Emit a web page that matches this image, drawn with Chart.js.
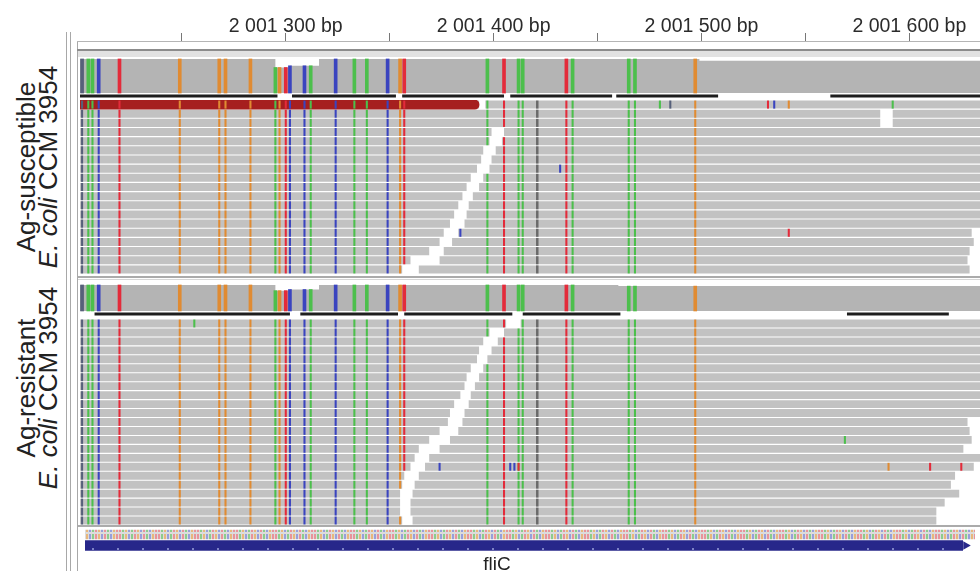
<!DOCTYPE html>
<html>
<head>
<meta charset="utf-8">
<script src="https://cdn.jsdelivr.net/npm/chart.js@4.4.1/dist/chart.umd.min.js"></script>
<style>
  body { margin:0; background:#fff; width:980px; height:571px; overflow:hidden; position:relative; font-family:'Liberation Sans', Arial, sans-serif; }
  canvas { position:absolute; }
  .ln { position:absolute; background:#a8a8a8; }
  .side { position:absolute; width:260px; height:44px; line-height:22px; font-size:26px; color:#222; text-align:center; transform:rotate(-90deg); white-space:nowrap; }
  .gene { position:absolute; left:467px; top:554px; width:60px; text-align:center; font-size:19px; line-height:19px; color:#222; }
</style>
</head>
<body>
<!-- frame lines of the track panels -->
<div class="ln" style="left:66px;top:32px;width:1px;height:539px"></div>
<div class="ln" style="left:70px;top:32px;width:1px;height:539px"></div>
<div class="ln" style="left:77px;top:41px;width:1px;height:530px"></div>
<div class="ln" style="left:77px;top:41px;width:903px;height:1px;background:#b5b5b5"></div>
<div class="ln" style="left:77px;top:49px;width:903px;height:2px;background:#8c8c8c"></div>
<div class="ln" style="left:78px;top:51px;width:902px;height:6px;background:#e2e2e2"></div>
<div class="ln" style="left:78px;top:276px;width:902px;height:2px;background:#ababab"></div>
<div class="ln" style="left:78px;top:279px;width:902px;height:1px;background:#d6d6d6"></div>
<div class="ln" style="left:78px;top:525px;width:902px;height:2px;background:#ababab"></div>

<canvas id="ruler" width="900" height="50" style="left:80px;top:0"></canvas>
<canvas id="cov1" width="900" height="46" style="left:80px;top:53px"></canvas>
<canvas id="reads1" width="900" height="174" style="left:80px;top:100px"></canvas>
<canvas id="cov2" width="900" height="38" style="left:80px;top:280px"></canvas>
<canvas id="reads2" width="900" height="206" style="left:80px;top:319px"></canvas>
<canvas id="genes" width="900" height="32" style="left:80px;top:524px"></canvas>

<div class="side" style="left:-93px;top:145px">Ag-susceptible<br><i>E. coli</i> CCM 3954</div>
<div class="side" style="left:-93px;top:366px">Ag-resistant<br><i>E. coli</i> CCM 3954</div>
<div class="gene" id="geneLabel"></div>

<script>
// visible window (bp)
const axisStart = 2001201;
const axisEnd = 2001634;

// ruler
const tickValues = [2001300, 2001400, 2001500, 2001600];
const tickLabels = ['2 001 300 bp', '2 001 400 bp', '2 001 500 bp', '2 001 600 bp'];
const minorTicks = [2001250, 2001350, 2001450, 2001550];

// mismatch columns shared by both strains
const snpPos = [2001202, 2001205, 2001207, 2001210, 2001220, 2001249, 2001268, 2001271, 2001283,
  2001295, 2001297, 2001300, 2001302, 2001309, 2001312, 2001324, 2001333, 2001339, 2001349,
  2001355, 2001357, 2001397, 2001405, 2001412, 2001414, 2001435, 2001438, 2001465, 2001468, 2001497];
const snpBase = ['N', 'A', 'A', 'C', 'T', 'G', 'G', 'G', 'G',
  'A', 'G', 'T', 'C', 'C', 'A', 'C', 'A', 'A', 'C',
  'G', 'T', 'A', 'T', 'A', 'A', 'T', 'A', 'A', 'A', 'G'];
const insertPos = [2001421];

// coverage depth, as steps starting at these positions
const cov1Start = [2001201, 2001295, 2001302, 2001316, 2001499];
const cov1Depth = [20, 15, 16, 20, 19];
const cov2Start = [2001201, 2001295, 2001302, 2001316, 2001460];
const cov2Depth = [23, 18, 19, 23, 22];

// black segments under the coverage track
const joins1 = [[2001201, 2001296], [2001303, 2001353], [2001356, 2001405], [2001408, 2001457], [2001459, 2001508], [2001562, 2001634]];
const joins2 = [[2001208, 2001302], [2001307, 2001354], [2001357, 2001409], [2001414, 2001461], [2001570, 2001619]];

// reads, one list per row
const reads1 = [
  [[2001201, 2001393], [2001396, 2001634]],
  [[2001201, 2001586], [2001592, 2001634]],
  [[2001201, 2001586], [2001592, 2001634]],
  [[2001201, 2001399], [2001405, 2001634]],
  [[2001201, 2001398], [2001404, 2001634]],
  [[2001201, 2001395], [2001401, 2001634]],
  [[2001201, 2001394], [2001399, 2001634]],
  [[2001201, 2001392], [2001398, 2001634]],
  [[2001201, 2001389], [2001395, 2001634]],
  [[2001201, 2001387], [2001393, 2001634]],
  [[2001201, 2001385], [2001390, 2001634]],
  [[2001201, 2001383], [2001388, 2001634]],
  [[2001201, 2001381], [2001387, 2001634]],
  [[2001201, 2001379], [2001386, 2001634]],
  [[2001201, 2001376], [2001383, 2001630]],
  [[2001201, 2001374], [2001380, 2001631]],
  [[2001201, 2001369], [2001376, 2001629]],
  [[2001201, 2001360], [2001374, 2001628]],
  [[2001201, 2001356], [2001364, 2001629]]
];
const redRead1 = [0, 2001201, 2001393];
const reads2 = [
  [[2001201, 2001406], [2001413, 2001634]],
  [[2001201, 2001398], [2001405, 2001634]],
  [[2001201, 2001395], [2001402, 2001634]],
  [[2001201, 2001393], [2001399, 2001634]],
  [[2001201, 2001392], [2001397, 2001634]],
  [[2001201, 2001389], [2001395, 2001634]],
  [[2001201, 2001387], [2001393, 2001634]],
  [[2001201, 2001386], [2001391, 2001634]],
  [[2001201, 2001384], [2001389, 2001634]],
  [[2001201, 2001381], [2001388, 2001634]],
  [[2001201, 2001379], [2001386, 2001634]],
  [[2001201, 2001378], [2001385, 2001628]],
  [[2001201, 2001374], [2001383, 2001629]],
  [[2001201, 2001369], [2001379, 2001630]],
  [[2001201, 2001364], [2001374, 2001626]],
  [[2001201, 2001362], [2001369, 2001634]],
  [[2001201, 2001360], [2001367, 2001631]],
  [[2001201, 2001357], [2001364, 2001622]],
  [[2001201, 2001356], [2001362, 2001620]],
  [[2001201, 2001355], [2001361, 2001624]],
  [[2001201, 2001355], [2001360, 2001617]],
  [[2001201, 2001355], [2001360, 2001613]],
  [[2001201, 2001356], [2001361, 2001613]]
];

// single mismatches seen in one read only: [row, position, base]
const extra1 = [[0, 2001480, 'A'], [0, 2001485, 'N'], [0, 2001532, 'T'], [0, 2001535, 'C'], [0, 2001542, 'G'],
  [0, 2001592, 'A'], [7, 2001432, 'C'], [14, 2001384, 'C'], [14, 2001542, 'T']];
const extra2 = [[0, 2001256, 'A'], [13, 2001569, 'A'], [16, 2001374, 'C'], [16, 2001408, 'C'], [16, 2001410, 'C'],
  [16, 2001412, 'T'], [16, 2001590, 'G'], [16, 2001610, 'T'], [16, 2001625, 'T']];

const geneName = 'fliC';
const geneStart = 2001190;
const geneEnd = 2001628;

// colours
const baseColors = { A: '#4cbf4c', C: '#3a44bf', G: '#e08b32', T: '#e32b3a', N: '#56607a', I: '#6a6a6a' };
const coverageGrey = '#b4b4b4';
const readGrey = '#c2c2c2';

const common = {
  responsive: false, animation: false, events: [],
  layout: { padding: 0 },
  plugins: { legend: { display: false }, tooltip: { enabled: false } }
};
const xAxis = { type: 'linear', min: axisStart, max: axisEnd, display: false, offset: false };

// ruler on top
new Chart(document.getElementById('ruler'), {
  type: 'line',
  data: { datasets: [] },
  options: {
    ...common,
    scales: {
      x: {
        type: 'linear', position: 'top', min: axisStart, max: axisEnd, offset: false,
        afterBuildTicks: s => { s.ticks = minorTicks.concat(tickValues).sort().map(v => ({ value: v })); },
        afterFit: s => { s.height = 41; },
        ticks: {
          autoSkip: false, maxRotation: 0, padding: -5, color: '#2b2b2b',
          font: { family: 'Liberation Sans', size: 19.5 },
          callback: v => { const i = tickValues.indexOf(v); return i >= 0 ? tickLabels[i] : ''; }
        },
        grid: { drawOnChartArea: false, tickLength: 8, color: '#777' },
        border: { display: false }
      },
      y: { display: false }
    }
  }
});

function depthAt(p, starts, depths) {
  let d = depths[0];
  starts.forEach((s, i) => { if (p >= s) d = depths[i]; });
  return d;
}

function coverageChart(id, starts, depths, joins, yMin, yMax, joinY) {
  const steps = starts.map((s, i) => ({ x: s, y: depths[i] }));
  steps.push({ x: axisEnd, y: depths[depths.length - 1] });
  const joinData = joins.flatMap(([a, b]) => [{ x: a, y: joinY }, { x: b, y: joinY }, { x: b, y: null }]);
  new Chart(document.getElementById(id), {
    type: 'bar',
    data: {
      datasets: [
        { type: 'line', data: steps, stepped: 'before', fill: 'origin', backgroundColor: coverageGrey,
          borderWidth: 0, borderColor: 'rgba(0,0,0,0)', pointRadius: 0, order: 3 },
        { data: snpPos.map(p => ({ x: p, y: depthAt(p, starts, depths) })),
          backgroundColor: snpBase.map(b => baseColors[b]), barThickness: 3, order: 2 },
        { type: 'line', data: joinData, borderColor: '#1e1e1e', borderWidth: 3, pointRadius: 0,
          spanGaps: false, fill: false, order: 1 }
      ]
    },
    options: {
      ...common,
      scales: { x: xAxis, y: { type: 'linear', min: yMin, max: yMax, display: false } }
    }
  });
}

function readsChart(id, rows, extras, red) {
  const labels = rows.map((_, i) => 'r' + i);
  const reads = rows.flatMap((row, i) => row.map(([s, e]) => ({ x: [s, e], y: 'r' + i })));
  const marks = [], markColors = [];
  rows.forEach((row, i) => row.forEach(([s, e]) => {
    snpPos.forEach((p, k) => {
      if (p > s && p < e) { marks.push({ x: [p - 0.5, p + 0.5], y: 'r' + i }); markColors.push(baseColors[snpBase[k]]); }
    });
    insertPos.forEach(p => {
      if (p > s && p < e) { marks.push({ x: [p - 0.6, p + 0.6], y: 'r' + i }); markColors.push(baseColors.I); }
    });
  }));
  extras.forEach(([r, p, b]) => { marks.push({ x: [p - 0.5, p + 0.5], y: 'r' + r }); markColors.push(baseColors[b]); });

  const datasets = [
    { data: reads, backgroundColor: readGrey, order: 3 },
    { data: marks, backgroundColor: markColors, order: 1 }
  ];
  if (red) {
    datasets.push({ data: [{ x: [red[1], red[2]], y: 'r' + red[0] }], backgroundColor: '#a61f1f', order: 2,
      barPercentage: 1, borderRadius: { topLeft: 0, bottomLeft: 0, topRight: 5, bottomRight: 5 } });
  }
  new Chart(document.getElementById(id), {
    type: 'bar',
    data: { labels, datasets },
    options: {
      ...common,
      indexAxis: 'y',
      datasets: { bar: { grouped: false, barPercentage: 0.88, categoryPercentage: 1, borderSkipped: false, borderWidth: 0 } },
      scales: { x: xAxis, y: { type: 'category', labels, display: false, offset: true } }
    }
  });
}

function stripes(colors, w, h, bg) {
  const c = document.createElement('canvas');
  c.width = colors.length * w; c.height = h;
  const g = c.getContext('2d');
  g.fillStyle = bg; g.fillRect(0, 0, c.width, h);
  colors.forEach((col, i) => { g.fillStyle = col; g.fillRect(i * w, 1, w - 1, h - 2); });
  return g.createPattern(c, 'repeat');
}

coverageChart('cov1', cov1Start, cov1Depth, joins1, -3.5, 23.5, -1.75);
readsChart('reads1', reads1, extra1, redRead1);
coverageChart('cov2', cov2Start, cov2Depth, joins2, -6.2, 27.4, -2.6);
readsChart('reads2', reads2, extra2, null);

// reference sequence and gene track
const seqFill = stripes(['#e8939b', '#8ccc8c', '#e8b77c', '#979fdb', '#8ccc8c', '#e8939b', '#e8b77c',
  '#979fdb', '#e8939b', '#8ccc8c', '#979fdb', '#e8b77c', '#e8939b'], 3, 9, '#dcdcdc');
const geneCanvas = document.createElement('canvas');
geneCanvas.width = 25; geneCanvas.height = 10;
const gc = geneCanvas.getContext('2d');
gc.fillStyle = '#27278a'; gc.fillRect(0, 0, 25, 10);
gc.fillStyle = '#7d82c6'; gc.fillRect(12, 4, 2, 2);
const geneFill = gc.createPattern(geneCanvas, 'repeat');

new Chart(document.getElementById('genes'), {
  type: 'bar',
  data: {
    labels: ['seq', 'gene'],
    datasets: [
      { data: [{ x: [axisStart, axisEnd], y: 'seq' }], backgroundColor: seqFill, barThickness: 9 },
      { data: [{ x: [geneStart, geneEnd], y: 'gene' }], backgroundColor: geneFill, barThickness: 10 },
      { type: 'scatter', data: [{ x: geneEnd + 1.5, y: 'gene' }], pointStyle: 'triangle', rotation: 90,
        radius: 5, backgroundColor: '#27278a', borderWidth: 0 }
    ]
  },
  options: {
    ...common,
    indexAxis: 'y',
    datasets: { bar: { grouped: false, borderSkipped: false, borderWidth: 0 } },
    scales: { x: xAxis, y: { type: 'category', labels: ['seq', 'gene'], display: false, offset: true } }
  }
});
document.getElementById('geneLabel').textContent = geneName;
</script>
</body>
</html>
